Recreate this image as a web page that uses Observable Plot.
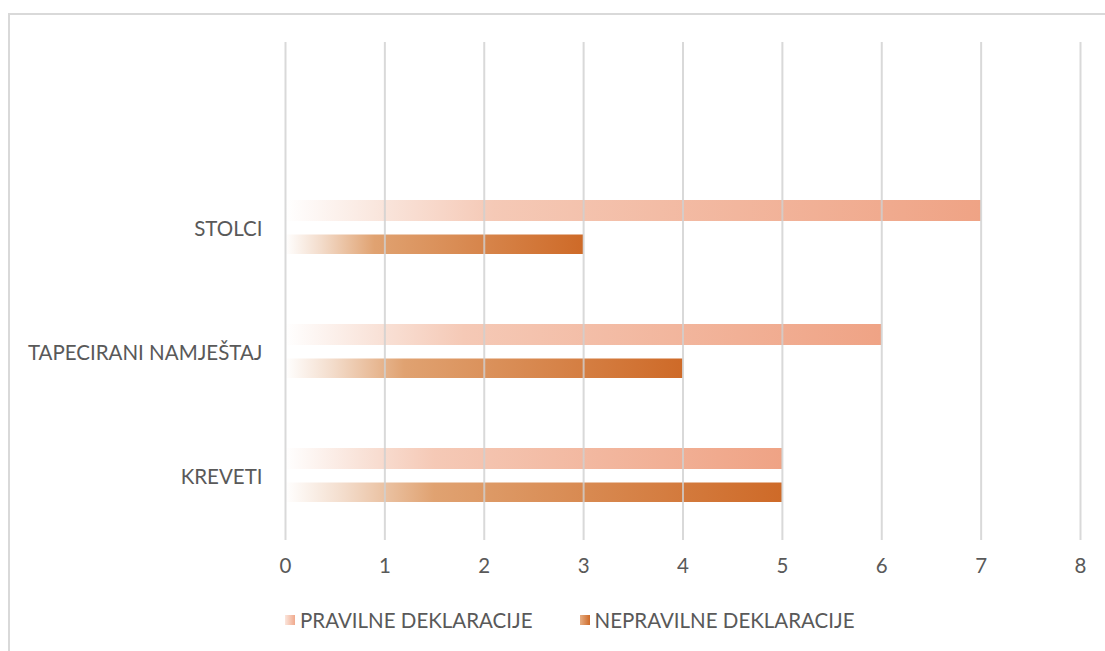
<!DOCTYPE html>
<html>
<head>
<meta charset="utf-8">
<script src="https://cdn.jsdelivr.net/npm/d3@7"></script>
<script src="https://cdn.jsdelivr.net/npm/@observablehq/plot@0.6"></script>
<style>
  html, body { margin: 0; padding: 0; background: #fff; width: 1105px; height: 651px; overflow: hidden; }
  #frame { position: absolute; left: 8px; top: 13px; width: 1200px; height: 700px; border-left: 2px solid #D9D9D9; border-top: 2px solid #D9D9D9; }
  #chart { position: absolute; left: 0; top: 0; }
  #legend { position: absolute; left: 285px; top: 608px; font-family: Lato, sans-serif; font-size: 20.5px; color: #595959; display: flex; align-items: center; }
  .item { display: flex; align-items: center; margin-right: 47px; }
  .sw { width: 10px; height: 10px; margin-right: 5px; }
</style>
</head>
<body>
<div id="frame"></div>
<div id="chart"></div>
<div id="legend"></div>
<script>
const categories = ["STOLCI", "TAPECIRANI NAMJEŠTAJ", "KREVETI"];
const pravilne = [7, 6, 5];
const nepravilne = [3, 4, 5];
const seriesNames = ["PRAVILNE DEKLARACIJE", "NEPRAVILNE DEKLARACIJE"];
const xTicks = [0, 1, 2, 3, 4, 5, 6, 7, 8];

const dataP = categories.map((c, i) => ({category: c, value: pravilne[i]}));
const dataN = categories.map((c, i) => ({category: c, value: nepravilne[i]}));

const plot = Plot.plot({
  width: 1105,
  height: 600,
  marginLeft: 285,
  marginRight: 25,
  marginTop: 42,
  marginBottom: 60,
  style: {fontFamily: "Lato, sans-serif", fontSize: "20.5px", color: "#595959", background: "transparent"},
  x: {domain: [0, 8], ticks: xTicks, tickSize: 0, tickPadding: 18, label: null},
  y: {domain: ["", ...categories], padding: 0, tickSize: 0, tickPadding: 23, label: null},
  marks: [
    Plot.barX(dataP, {x: "value", y: "category", fill: "url(#gradP)", insetTop: 33, insetBottom: 70}),
    Plot.barX(dataN, {x: "value", y: "category", fill: "url(#gradN)", insetTop: 67.5, insetBottom: 37}),
    Plot.ruleX(xTicks, {stroke: "#CFCFCF", strokeWidth: 2, strokeOpacity: 0.8})
  ]
});

const svg = d3.select(plot);
const defs = svg.insert("defs", ":first-child");
function grad(id, stops) {
  const g = defs.append("linearGradient").attr("id", id).attr("x1", "0").attr("x2", "1").attr("y1", "0").attr("y2", "0");
  stops.forEach(([o, c]) => g.append("stop").attr("offset", o).attr("stop-color", c));
}
grad("gradP", [[0, "#FFFFFF"], [0.15, "#F9E3D9"], [0.3, "#F5C9B6"], [1, "#EFA385"]]);
grad("gradN", [[0, "#FFFFFF"], [0.12, "#F3DCCB"], [0.3, "#E0A271"], [1, "#CE6A28"]]);
document.getElementById("chart").appendChild(plot);

const legend = document.getElementById("legend");
const legendGrads = [
  "linear-gradient(to right, #FBE6DD, #F0A98C)",
  "linear-gradient(to right, #E6AE84, #CE6A28)"
];
seriesNames.forEach((name, i) => {
  const item = document.createElement("div");
  item.className = "item";
  const sw = document.createElement("div");
  sw.className = "sw";
  sw.style.background = legendGrads[i];
  const t = document.createElement("span");
  t.textContent = name;
  item.appendChild(sw);
  item.appendChild(t);
  legend.appendChild(item);
});
</script>
</body>
</html>
